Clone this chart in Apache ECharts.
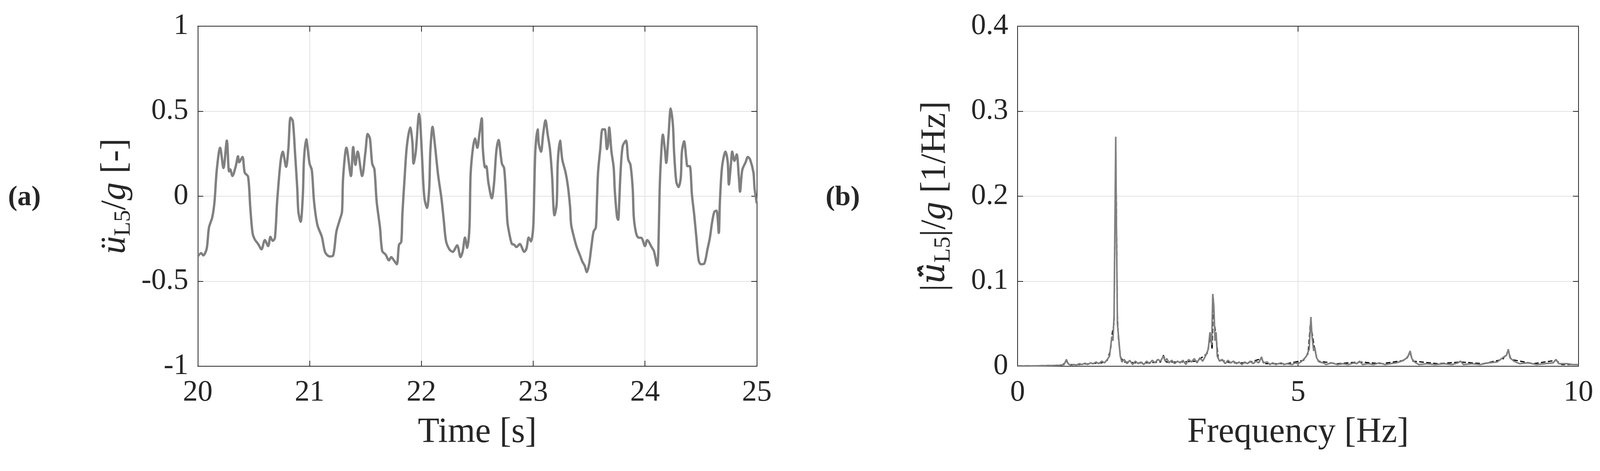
<!DOCTYPE html>
<html>
<head>
<meta charset="utf-8">
<script src="https://cdn.jsdelivr.net/npm/echarts@6/dist/echarts.min.js"></script>
<style>
  html, body { margin: 0; padding: 0; background: #fff; overflow: hidden; }
  #main { width: 100vw; height: 100vh; }
</style>
</head>
<body>
<div id="main"></div>
<script>
// time signal: [t, value]
const timeSignal = [
  [20.00,-0.354],[20.03,-0.335],[20.05,-0.348],[20.08,-0.308],[20.10,-0.185],[20.13,-0.123],[20.15,-0.031],
  [20.17,0.154],[20.20,0.285],[20.23,0.166],[20.26,0.327],[20.28,0.146],[20.29,0.158],[20.31,0.119],
  [20.34,0.177],[20.36,0.235],[20.37,0.200],[20.40,0.231],[20.42,0.139],[20.45,0.115],[20.47,-0.069],
  [20.49,-0.216],[20.51,-0.254],[20.54,-0.281],[20.57,-0.312],[20.60,-0.258],[20.63,-0.293],[20.65,-0.239],
  [20.67,-0.262],[20.69,-0.246],[20.71,-0.031],[20.74,0.200],[20.76,0.262],[20.79,0.173],[20.81,0.277],
  [20.83,0.462],[20.85,0.443],[20.87,0.254],[20.89,0.046],[20.90,-0.092],[20.92,-0.150],[20.94,0.008],
  [20.95,0.216],[20.97,0.335],[21.00,0.192],[21.02,0.154],[21.04,-0.031],[21.07,-0.169],[21.11,-0.239],
  [21.14,-0.331],[21.18,-0.354],[21.21,-0.350],[21.24,-0.208],[21.27,-0.139],[21.29,-0.092],[21.30,0.108],
  [21.33,0.285],[21.37,0.119],[21.39,0.289],[21.41,0.185],[21.43,0.262],[21.47,0.119],[21.50,0.262],
  [21.52,0.366],[21.54,0.339],[21.56,0.192],[21.58,0.158],[21.60,-0.031],[21.63,-0.185],[21.65,-0.323],
  [21.68,-0.343],[21.71,-0.377],[21.73,-0.358],[21.75,-0.373],[21.78,-0.400],[21.80,-0.285],[21.82,-0.269],
  [21.83,-0.108],[21.85,0.108],[21.87,0.293],[21.90,0.404],[21.92,0.316],[21.93,0.192],[21.95,0.262],
  [21.98,0.485],[21.99,0.431],[22.01,0.177],[22.02,0.046],[22.03,-0.023],[22.05,-0.069],[22.07,0.046],
  [22.08,0.262],[22.10,0.408],[22.12,0.308],[22.15,0.123],[22.18,-0.015],[22.20,-0.139],[22.22,-0.262],
  [22.25,-0.312],[22.28,-0.327],[22.32,-0.289],[22.35,-0.358],[22.37,-0.323],[22.39,-0.243],[22.41,-0.304],
  [22.43,-0.185],[22.44,0.123],[22.46,0.277],[22.48,0.339],[22.50,0.285],[22.52,0.370],[22.54,0.458],
  [22.55,0.277],[22.57,0.169],[22.58,0.177],[22.60,0.077],[22.63,-0.012],[22.65,0.077],[22.67,0.262],
  [22.69,0.331],[22.72,0.192],[22.74,0.166],[22.76,-0.031],[22.77,-0.154],[22.79,-0.231],[22.81,-0.281],
  [22.83,-0.285],[22.85,-0.299],[22.88,-0.281],[22.92,-0.327],[22.94,-0.308],[22.96,-0.243],[22.98,-0.266],
  [23.00,-0.185],[23.01,0.046],[23.02,0.277],[23.04,0.393],[23.05,0.308],[23.07,0.262],[23.09,0.370],
  [23.11,0.446],[23.13,0.362],[23.15,0.277],[23.17,0.108],[23.18,-0.046],[23.19,-0.112],[23.21,-0.046],
  [23.22,0.200],[23.24,0.327],[23.26,0.216],[23.29,0.139],[23.31,0.062],[23.33,-0.062],[23.34,-0.169],
  [23.37,-0.254],[23.39,-0.300],[23.42,-0.350],[23.44,-0.385],[23.46,-0.408],[23.48,-0.446],[23.50,-0.400],
  [23.52,-0.300],[23.54,-0.208],[23.56,-0.185],[23.57,-0.031],[23.58,0.139],[23.60,0.277],[23.62,0.393],
  [23.64,0.393],[23.66,0.277],[23.67,0.308],[23.68,0.404],[23.70,0.262],[23.72,0.169],[23.73,0.031],
  [23.75,-0.123],[23.76,-0.139],[23.77,-0.031],[23.78,0.123],[23.80,0.293],[23.83,0.327],[23.85,0.216],
  [23.87,0.185],[23.89,0.046],[23.90,-0.123],[23.92,-0.216],[23.94,-0.243],[23.97,-0.246],[24.00,-0.293],
  [24.02,-0.258],[24.06,-0.300],[24.08,-0.323],[24.11,-0.408],[24.12,-0.300],[24.13,0.008],[24.14,0.185],
  [24.16,0.362],[24.18,0.262],[24.19,0.196],[24.21,0.354],[24.23,0.516],[24.25,0.416],[24.26,0.262],
  [24.28,0.085],[24.30,0.054],[24.32,0.108],[24.33,0.262],[24.35,0.323],[24.37,0.216],[24.38,0.177],
  [24.40,0.177],[24.42,0.008],[24.44,-0.108],[24.46,-0.246],[24.48,-0.377],[24.50,-0.400],[24.53,-0.396],
  [24.56,-0.308],[24.58,-0.246],[24.60,-0.154],[24.62,-0.092],[24.64,-0.085],[24.66,-0.216],[24.67,-0.031],
  [24.69,0.177],[24.72,0.262],[24.74,0.200],[24.75,0.069],[24.77,0.200],[24.78,0.262],[24.80,0.208],
  [24.82,0.246],[24.84,0.108],[24.85,0.027],[24.87,0.154],[24.90,0.200],[24.92,0.231],[24.94,0.216],
  [24.97,0.139],[24.98,0.046],[25.00,-0.042]
];

// spectrum magnitude, panel (b): [f, value]
const spectrumGray = [
  [0,0.0003],[0.2,0.0004],[0.4,0.0006],[0.6,0.0008],[0.75,0.0012],[0.83,0.002],[0.87,0.008],[0.9,0.003],
  [0.95,0.001],[1.0,0.002],[1.05,0.0015],[1.1,0.003],[1.15,0.002],[1.2,0.0035],[1.25,0.002],[1.3,0.004],
  [1.35,0.003],[1.4,0.005],[1.45,0.003],[1.5,0.006],[1.55,0.004],[1.6,0.008],[1.64,0.012],[1.68,0.035],
  [1.7,0.03],[1.72,0.06],[1.74,0.2],[1.75,0.27],[1.76,0.18],[1.78,0.05],[1.8,0.035],[1.83,0.012],
  [1.86,0.005],[1.9,0.008],[1.95,0.003],[2.0,0.007],[2.05,0.002],[2.1,0.006],[2.15,0.003],[2.2,0.005],
  [2.25,0.002],[2.3,0.006],[2.35,0.003],[2.4,0.007],[2.45,0.004],[2.5,0.008],[2.55,0.006],[2.6,0.012],
  [2.63,0.006],[2.66,0.009],[2.7,0.004],[2.75,0.007],[2.8,0.003],[2.85,0.006],[2.9,0.004],[2.95,0.007],
  [3.0,0.002],[3.05,0.008],[3.1,0.005],[3.15,0.009],[3.2,0.004],[3.25,0.01],[3.3,0.006],[3.35,0.012],
  [3.4,0.02],[3.43,0.04],[3.46,0.025],[3.48,0.085],[3.5,0.07],[3.52,0.03],[3.54,0.04],[3.56,0.012],
  [3.6,0.006],[3.65,0.008],[3.7,0.003],[3.75,0.007],[3.8,0.004],[3.85,0.006],[3.9,0.003],[3.95,0.005],
  [4.0,0.002],[4.05,0.005],[4.1,0.003],[4.15,0.006],[4.2,0.003],[4.25,0.006],[4.3,0.004],[4.35,0.011],
  [4.38,0.004],[4.45,0.005],[4.5,0.002],[4.55,0.004],[4.6,0.002],[4.7,0.004],[4.75,0.002],[4.8,0.003],
  [4.9,0.002],[4.95,0.004],[5.0,0.003],[5.05,0.005],[5.1,0.008],[5.15,0.012],[5.2,0.02],[5.23,0.058],
  [5.25,0.035],[5.28,0.018],[5.3,0.022],[5.33,0.01],[5.38,0.005],[5.45,0.004],[5.5,0.002],[5.6,0.004],
  [5.7,0.002],[5.8,0.003],[5.9,0.002],[6.0,0.004],[6.05,0.003],[6.1,0.006],[6.15,0.002],[6.25,0.003],
  [6.35,0.002],[6.45,0.004],[6.55,0.002],[6.65,0.003],[6.75,0.004],[6.85,0.006],[6.95,0.01],[7.0,0.018],
  [7.03,0.009],[7.08,0.005],[7.15,0.002],[7.3,0.003],[7.45,0.002],[7.6,0.003],[7.75,0.002],[7.85,0.004],
  [7.9,0.006],[7.95,0.002],[8.1,0.003],[8.25,0.002],[8.4,0.004],[8.55,0.005],[8.65,0.01],[8.72,0.013],
  [8.75,0.02],[8.78,0.01],[8.85,0.006],[8.95,0.003],[9.1,0.004],[9.25,0.002],[9.4,0.003],[9.55,0.004],
  [9.6,0.008],[9.65,0.003],[9.8,0.003],[9.9,0.002],[10,0.002]
];
const spectrumBlack = [
  [0,0.0005],[0.3,0.0006],[0.6,0.0009],[0.8,0.0015],[0.87,0.006],[0.92,0.002],[1.1,0.002],[1.3,0.003],
  [1.5,0.004],[1.6,0.007],[1.66,0.02],[1.69,0.04],[1.72,0.05],[1.74,0.19],[1.75,0.26],[1.76,0.2],
  [1.78,0.06],[1.8,0.03],[1.84,0.01],[1.9,0.005],[2.1,0.004],[2.3,0.004],[2.55,0.005],[2.6,0.013],
  [2.65,0.005],[2.9,0.005],[3.2,0.006],[3.38,0.015],[3.44,0.035],[3.47,0.02],[3.49,0.08],[3.51,0.05],
  [3.54,0.035],[3.58,0.008],[3.8,0.004],[4.1,0.004],[4.35,0.009],[4.4,0.003],[4.8,0.003],[5.1,0.007],
  [5.18,0.015],[5.22,0.05],[5.25,0.04],[5.3,0.018],[5.36,0.006],[5.7,0.003],[6.1,0.005],[6.5,0.003],
  [6.9,0.007],[7.0,0.015],[7.05,0.006],[7.5,0.003],[7.9,0.005],[8.3,0.003],[8.65,0.008],[8.75,0.018],
  [8.8,0.008],[9.2,0.003],[9.6,0.007],[9.7,0.002],[10,0.002]
];

const timeTicks = [20, 25, 1];
const freqTicks = [0, 10, 5];

const font = '"Liberation Serif", "DejaVu Serif", serif';
const ink = '#262626';
const gridLine = { show: true, lineStyle: { color: '#e3e3e3', width: 2 } };

function axisPair(gridIndex, min, max, interval, name, nameGap) {
  return [
    {
      type: 'value', gridIndex, min, max, interval,
      name, nameLocation: 'middle', nameGap,
      nameTextStyle: { fontFamily: font, fontSize: 90, color: ink },
      axisLine: { show: true, onZero: false, lineStyle: { color: ink, width: 2 } },
      axisTick: { show: true, inside: true, length: 14, lineStyle: { color: ink, width: 2 } },
      axisLabel: { fontFamily: font, fontSize: 76, color: ink, margin: 30 },
      splitLine: gridLine
    },
    {
      type: 'value', gridIndex, min, max, interval, position: 'top',
      axisLine: { show: true, onZero: false, lineStyle: { color: ink, width: 2 } },
      axisTick: { show: true, inside: true, length: 14, lineStyle: { color: ink, width: 2 } },
      axisLabel: { show: false }, splitLine: { show: false }
    }
  ];
}
function yPair(gridIndex, min, max, interval, name, formatter) {
  return [
    {
      type: 'value', gridIndex, min, max, interval,
      name, nameLocation: 'middle', nameGap: 160, nameRotate: 90,
      nameTextStyle: {
        fontFamily: font, fontSize: 90, color: ink,
        rich: {
          it: { fontFamily: font, fontSize: 92, fontStyle: 'italic', color: ink },
          hat: { fontFamily: '"DejaVu Serif", serif', fontSize: 86, fontStyle: 'italic', color: ink },
          sub: { fontFamily: font, fontSize: 60, color: ink, verticalAlign: 'bottom', padding: [40, 0, 0, 0] }
        }
      },
      axisLine: { show: true, onZero: false, lineStyle: { color: ink, width: 2 } },
      axisTick: { show: true, inside: true, length: 14, lineStyle: { color: ink, width: 2 } },
      axisLabel: { fontFamily: font, fontSize: 76, color: ink, margin: 24, formatter },
      splitLine: gridLine
    },
    {
      type: 'value', gridIndex, min, max, interval, position: 'right',
      axisLine: { show: true, onZero: false, lineStyle: { color: ink, width: 2 } },
      axisTick: { show: true, inside: true, length: 14, lineStyle: { color: ink, width: 2 } },
      axisLabel: { show: false }, splitLine: { show: false }
    }
  ];
}

const chart = echarts.init(document.getElementById('main'), null, { renderer: 'canvas' });
chart.setOption({
  backgroundColor: '#fff',
  animation: false,
  grid: [
    { left: '12.36%', right: '52.7%', top: '5.56%', bottom: '22.24%' },
    { left: '63.6%', right: '1.35%', top: '5.56%', bottom: '22.24%' }
  ],
  xAxis: [
    ...axisPair(0, timeTicks[0], timeTicks[1], timeTicks[2], 'Time [s]', 125),
    ...axisPair(1, freqTicks[0], freqTicks[1], freqTicks[2], 'Frequency [Hz]', 125)
  ],
  yAxis: [
    ...yPair(0, -1, 1, 0.5, '{it|ü}{sub|L5}/{it|g} [-]', v => String(v)),
    ...yPair(1, 0, 0.4, 0.1, '|{hat|u\u0308\u0302}{sub|L5}|/{it|g} [1/Hz]', v => v === 0 ? '0' : v.toFixed(1))
  ],
  graphic: [
    { type: 'text', left: '0.5%', top: '39%', style: { text: '(a)', font: 'bold 72px ' + font, fill: ink } },
    { type: 'text', left: '51.6%', top: '39%', style: { text: '(b)', font: 'bold 72px ' + font, fill: ink } }
  ],
  series: [
    {
      type: 'line', xAxisIndex: 0, yAxisIndex: 0, data: timeSignal,
      showSymbol: false, smooth: 0.3, lineStyle: { color: '#808080', width: 6 }
    },
    {
      type: 'line', xAxisIndex: 2, yAxisIndex: 2, data: spectrumBlack,
      showSymbol: false, lineStyle: { color: '#000', width: 3, type: [12, 6] }
    },
    {
      type: 'line', xAxisIndex: 2, yAxisIndex: 2, data: spectrumGray,
      showSymbol: false, lineStyle: { color: '#808080', width: 4 }
    }
  ]
});
</script>
</body>
</html>
